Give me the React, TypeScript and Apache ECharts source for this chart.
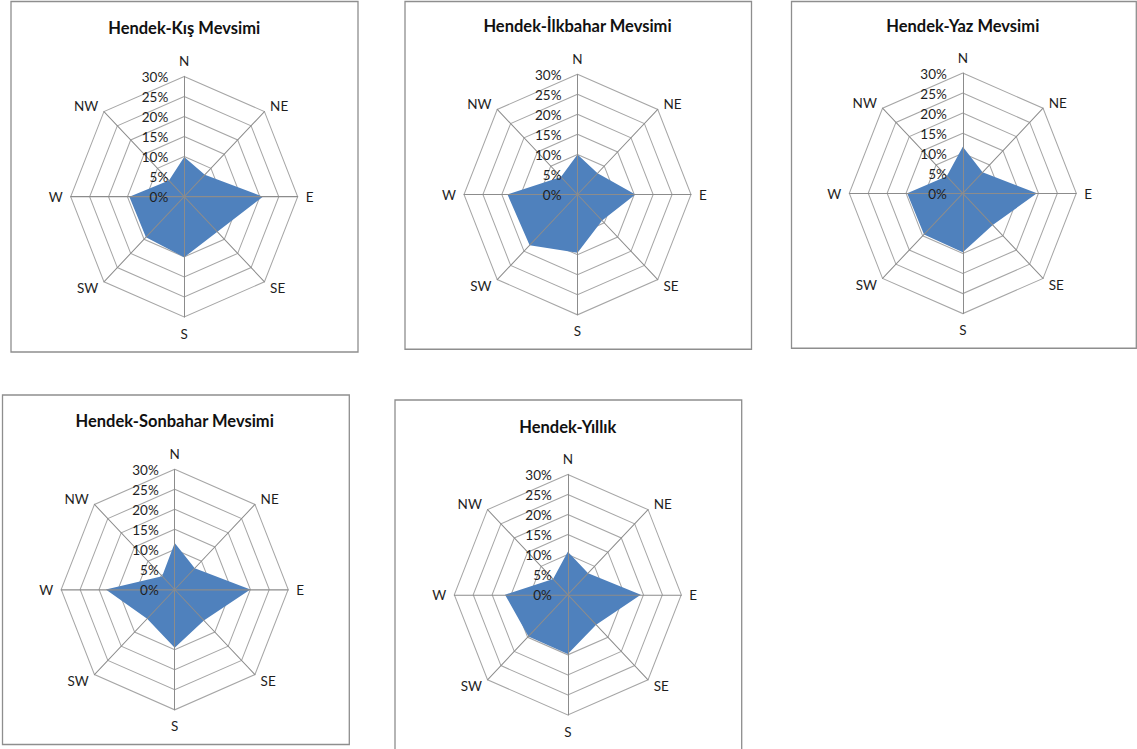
import React, { useEffect, useRef } from "react";
import * as echarts from "echarts";

// Wind directions, listed clockwise from north
const directions = ["N", "NE", "E", "SE", "S", "SW", "W", "NW"];

// Share of wind from each direction (%), same order as `directions`
const kis = [9.9, 7.7, 20.8, 12.4, 15.1, 14.3, 14.5, 5.7];
const ilkbahar = [10, 7.5, 15.3, 9.2, 14.5, 17.9, 18.5, 6.2];
const yaz = [11.6, 7.4, 19.6, 11.2, 14.7, 14.5, 14.7, 6];
const sonbahar = [11.6, 7.5, 20, 10.9, 14.5, 10.3, 18.2, 4.7];
const yillik = [10.7, 7.6, 19.3, 10.6, 14.8, 14.7, 16.6, 5.5];

const titles = [
  "Hendek-Kış Mevsimi",
  "Hendek-İlkbahar Mevsimi",
  "Hendek-Yaz Mevsimi",
  "Hendek-Sonbahar Mevsimi",
  "Hendek-Yıllık",
];
const seriesValues = [kis, ilkbahar, yaz, sonbahar, yillik];

// Radial axis: 0% .. 30% in 5% steps
const TICK_MIN = 0;
const TICK_MAX = 30;
const TICK_STEP = 5;

// Page geometry (screen px). The drawing is stretched vertically by SY.
const SY = 1.06;
const PAGE_W = 1137;
const PAGE_H = 749;
const RADIUS = 113.5;

const layouts = [
  { cx: 184.2, cy: 196.7, titleY: 27, box: [11, 1.5, 358, 352] },
  { cx: 577.5, cy: 194.5, titleY: 25, box: [405, 1.5, 751.5, 349.3] },
  { cx: 962.8, cy: 193.3, titleY: 25, box: [791.5, 1.5, 1136.3, 348.3] },
  { cx: 174.7, cy: 589.5, titleY: 420, box: [2.5, 395, 349.3, 744.5] },
  { cx: 567.8, cy: 594.7, titleY: 426, box: [395, 400, 741.7, 780] },
];

const FILL = "#4f81bd";
const RING = "#a6a6a6";
const SPOKE = "#8c8c8c";
const TEXT = "#1e1e1e";
const BORDER = "#8e8e8e";
const FONT = "Lato";

// ECharts lays radar axes out counter-clockwise from the top
const ccwOrder = [0, 7, 6, 5, 4, 3, 2, 1];

function buildOption() {
  const radar: any[] = [];
  const series: any[] = [];
  const graphic: any[] = [];

  seriesValues.forEach((values, i) => {
    const L = layouts[i];
    const center = [L.cx, L.cy / SY];

    // rings (under the filled area)
    radar.push({
      center,
      radius: RADIUS,
      startAngle: 90,
      shape: "polygon",
      splitNumber: (TICK_MAX - TICK_MIN) / TICK_STEP,
      z: 0,
      indicator: ccwOrder.map((k) => ({
        name: directions[k],
        min: TICK_MIN,
        max: TICK_MAX,
      })),
      axisName: { show: false },
      axisLine: { show: false },
      axisTick: { show: false },
      axisLabel: { show: false },
      splitArea: { show: false },
      splitLine: { lineStyle: { color: RING, width: 1 } },
    });

    // spokes, direction names and percentage labels (over the filled area)
    radar.push({
      center,
      radius: RADIUS,
      startAngle: 90,
      shape: "polygon",
      splitNumber: (TICK_MAX - TICK_MIN) / TICK_STEP,
      z: 3,
      nameGap: 8,
      indicator: ccwOrder.map((k, j) => {
        const ind: any = { name: directions[k], min: TICK_MIN, max: TICK_MAX };
        if (j === 0) {
          ind.axisLabel = {
            show: true,
            formatter: "{value}%",
            margin: 16,
            color: TEXT,
            fontSize: 13.5,
            fontFamily: FONT,
            showMinLabel: true,
            showMaxLabel: true,
          };
        }
        return ind;
      }),
      axisName: { color: TEXT, fontSize: 13.5, fontFamily: FONT },
      axisLine: { show: true, lineStyle: { color: SPOKE, width: 1 } },
      axisTick: { show: false },
      axisLabel: { show: false },
      splitArea: { show: false },
      splitLine: { show: false },
    });

    series.push({
      type: "radar",
      radarIndex: i * 2,
      z: 2,
      symbol: "none",
      lineStyle: { width: 0 },
      areaStyle: { color: FILL, opacity: 1 },
      data: [{ name: titles[i], value: ccwOrder.map((k) => values[k]) }],
    });

    const [x0, y0, x1, y1] = L.box;
    graphic.push({
      type: "rect",
      shape: { x: x0, y: y0 / SY, width: x1 - x0, height: (y1 - y0) / SY },
      style: { fill: "none", stroke: BORDER, lineWidth: 1.3 },
      silent: true,
    });
    graphic.push({
      type: "text",
      x: L.cx,
      y: L.titleY / SY,
      style: {
        text: titles[i],
        fill: "#111111",
        font: `bold 16.5px ${FONT}`,
        textAlign: "center",
        textVerticalAlign: "middle",
      },
      silent: true,
    });
  });

  return {
    animation: false,
    backgroundColor: "#ffffff",
    textStyle: { fontFamily: FONT },
    radar,
    series,
    graphic,
  };
}

export default function App() {
  const ref = useRef<HTMLDivElement>(null);

  useEffect(() => {
    if (!ref.current) return;
    const chart = echarts.init(ref.current, undefined, { renderer: "svg" });
    chart.setOption(buildOption());
    return () => chart.dispose();
  }, []);

  return (
    <div
      style={{
        position: "fixed",
        left: 0,
        top: 0,
        width: PAGE_W,
        height: PAGE_H,
        overflow: "hidden",
        background: "#ffffff",
      }}
    >
      <div
        ref={ref}
        style={{
          width: PAGE_W,
          height: PAGE_H / SY,
          transform: `scaleY(${SY})`,
          transformOrigin: "0 0",
        }}
      />
    </div>
  );
}
